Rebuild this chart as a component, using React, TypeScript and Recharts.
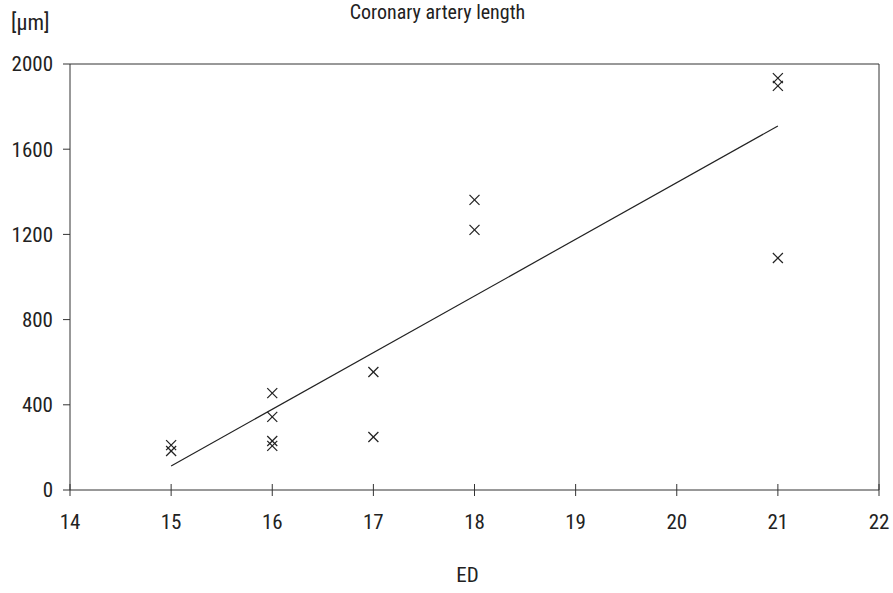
import React from 'react';
import { ScatterChart, Scatter, XAxis, YAxis, ReferenceLine } from 'recharts';

const xTicks = [14, 15, 16, 17, 18, 19, 20, 21, 22];
const yTicks = [0, 400, 800, 1200, 1600, 2000];
const edValues = [15, 15, 16, 16, 16, 16, 17, 17, 18, 18, 21, 21, 21];
const lengthValues = [211, 183, 455, 343, 230, 207, 554, 249, 1362, 1221, 1934, 1897, 1089];
const trendX = [15, 21];
const trendY = [113, 1709];

const points = edValues.map((x, i) => ({ x, y: lengthValues[i] }));
const trend = trendX.map((x, i) => ({ x, y: trendY[i] }));

const FONT = "'Liberation Sans Narrow', 'Roboto Condensed', 'DejaVu Sans Condensed', sans-serif";
const INK = '#222';

const Cross = (props: any) => {
  const { cx, cy } = props;
  if (cx == null || cy == null) return null;
  const r = 5;
  return (
    <g stroke={INK} strokeWidth={1.2}>
      <line x1={cx - r} y1={cy - r} x2={cx + r} y2={cy + r} />
      <line x1={cx - r} y1={cy + r} x2={cx + r} y2={cy - r} />
    </g>
  );
};

const XTick = (props: any) => {
  const { x, y, payload } = props;
  const axisY = y - 26;
  return (
    <g>
      <line x1={x} x2={x} y1={axisY - 6} y2={axisY + 6} stroke="#333" strokeWidth={1} />
      <text x={x} y={y - 2} textAnchor="middle" dominantBaseline="hanging" fontSize={21} fontFamily={FONT} fill={INK}>
        {payload.value}
      </text>
    </g>
  );
};

export default function App() {
  return (
    <div style={{ position: 'absolute', left: 0, top: 0, width: 893, height: 593, background: '#fff' }}>
      <ScatterChart width={893} height={593} margin={{ top: 64, right: 14, bottom: 43, left: 10 }}>
        <XAxis
          type="number"
          dataKey="x"
          domain={[14, 22]}
          ticks={xTicks}
          interval={0}
          height={60}
          tickLine={false}
          tickSize={6}
          tickMargin={20}
          tick={<XTick />}
          axisLine={{ stroke: '#333' }}
        />
        <YAxis
          type="number"
          dataKey="y"
          domain={[0, 2000]}
          ticks={yTicks}
          interval={0}
          width={60}
          tickSize={7}
          tickMargin={10}
          tick={{ fontSize: 21, fontFamily: FONT, fill: INK }}
          tickLine={{ stroke: '#333' }}
          axisLine={{ stroke: '#333' }}
        />
        <ReferenceLine y={2000} stroke="#333" />
        <ReferenceLine x={22} stroke="#333" />
        <Scatter data={points} shape={<Cross />} isAnimationActive={false} />
        <Scatter data={trend} line={{ stroke: INK, strokeWidth: 1.2 }} shape={() => null} isAnimationActive={false} />
      </ScatterChart>
      <div style={{ position: 'absolute', left: -9, width: 893, top: 0, textAlign: 'center', fontFamily: FONT, fontSize: 20, color: INK }}>
        Coronary artery length
      </div>
      <div style={{ position: 'absolute', left: 11, top: 10, fontFamily: FONT, fontSize: 22, color: INK }}>
        [μm]
      </div>
      <div style={{ position: 'absolute', left: 0, width: 893, top: 563, textAlign: 'center', fontFamily: FONT, fontSize: 21, color: INK, paddingLeft: 42, boxSizing: 'border-box' }}>
        ED
      </div>
    </div>
  );
}
